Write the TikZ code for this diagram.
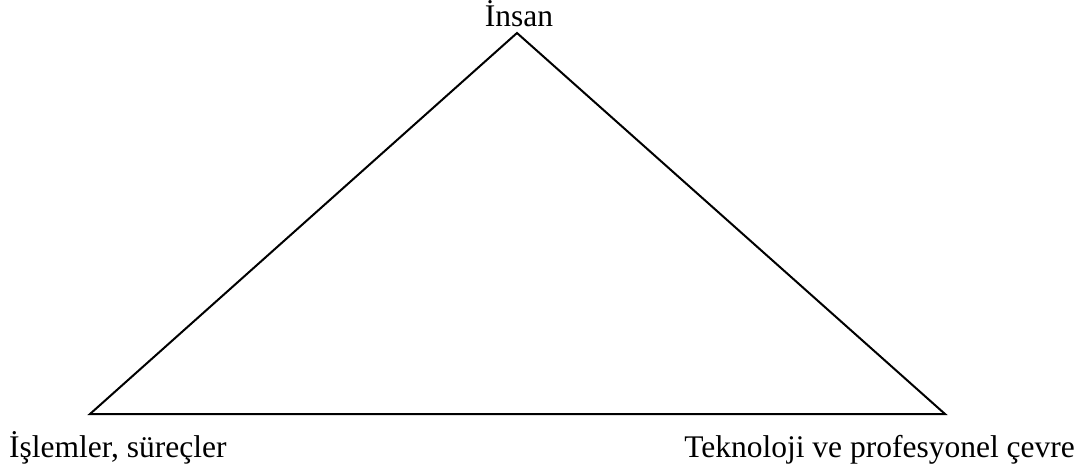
\documentclass[tikz,border=0pt]{standalone}
\usepackage{fontspec}
\setmainfont{Liberation Serif}
\begin{document}
\begin{tikzpicture}[x=1pt,y=-1pt,
  lbl/.style={inner sep=0pt,font=\fontsize{31.5}{37}\selectfont},
  edge/.style={line width=2pt,line join=miter}]
\useasboundingbox (0,0) rectangle (1087,468);
\coordinate (top) at (517,33);
\coordinate (left) at (90,414);
\coordinate (right) at (945,414);
\draw[edge] (top) -- (left) -- (right) -- cycle;
\node[lbl,anchor=base] (insan) at (519,27) {İnsan};
\node[lbl,anchor=base west] (islem) at (9,457) {İşlemler, süreçler};
\node[lbl,anchor=base east] (tekno) at (1075,457) {Teknoloji ve profesyonel çevre};
\end{tikzpicture}
\end{document}
